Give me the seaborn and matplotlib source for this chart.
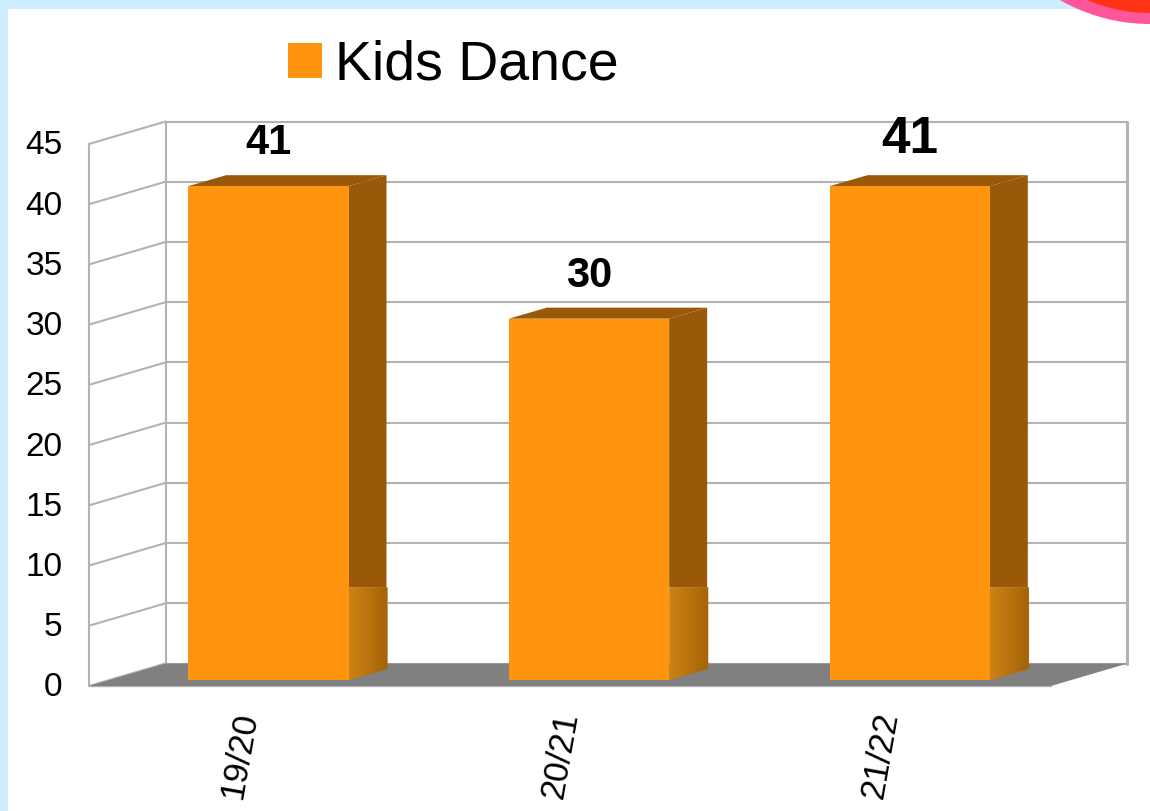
import numpy as np
import pandas as pd
import matplotlib
matplotlib.use("Agg")
import matplotlib.pyplot as plt
from matplotlib.patches import Polygon, Circle, Rectangle
from matplotlib.transforms import Affine2D, IdentityTransform
import seaborn as sns

seasons = ["19/20", "20/21", "21/22"]
dancers = [41, 30, 41]
series_name = "Kids Dance"
y_ticks = [0, 5, 10, 15, 20, 25, 30, 35, 40, 45]
label_sizes = [30, 30, 37]

ORANGE = "#FF950E"
DARK = "#995908"
GRID = "#b3b3b3"
FLOOR = "#808080"

W, H, DPI = 1150, 811, 100
sns.set_theme(style="white")
plt.rcParams["font.family"] = ["Liberation Sans", "DejaVu Sans"]

fig = plt.figure(figsize=(W / DPI, H / DPI), dpi=DPI, facecolor="#CCEEFF")

# page background
id_tr = IdentityTransform()
fig.add_artist(Rectangle((8, 0), W - 8, H - 9, transform=id_tr, fc="white", ec="none", zorder=-5))
fig.add_artist(Circle((1150, H + 157), 181, transform=id_tr, fc="#FF559B", ec="none", zorder=-4))
fig.add_artist(Circle((1150, H + 146), 159, transform=id_tr, fc="#FF3216", ec="none", zorder=-3))

# front plane of the 3D box: x 89..1051, y 144..686 (pixels from top)
ax = fig.add_axes([89 / W, (H - 686) / H, (1051 - 89) / W, (686 - 144) / H])
ax.patch.set_alpha(0)

df = pd.DataFrame({"season": seasons, "dancers": dancers})
sns.barplot(data=df, x="season", y="dancers", color=ORANGE, saturation=1,
            width=0.5, label=series_name, linewidth=0, edgecolor="none", ax=ax)
bars = list(ax.containers[0])
ax.set_xlim(-0.5, 2.5)
ax.set_ylim(0, 45)
ax.set_xlabel("")
ax.set_ylabel("")
ax.set_yticks(y_ticks)
for s in ax.spines.values():
    s.set_visible(False)

WALL_DX, WALL_DY = 76.5, 22.5     # depth of the box, pixels
BAR_DX, BAR_DY = 19, 6            # bar front relative to box front
SIDE_DX, SIDE_DY = 38, 11         # bar depth
GRAD_TOP = 7.7                    # value where the side face shading starts


def px(x, y, dx=0.0, dy=0.0):
    p = ax.transData.transform((x, y))
    return (p[0] + dx, p[1] + dy)


def poly(points, fc, z):
    ax.add_patch(Polygon(points, closed=True, fc=fc, ec="none",
                         transform=id_tr, zorder=z, clip_on=False))


def line(a, b, lw=1.5):
    ax.plot([a[0], b[0]], [a[1], b[1]], color=GRID, lw=lw, transform=id_tr,
            zorder=1.2, clip_on=False, solid_capstyle="round")


# walls and grid
x0, x1 = ax.get_xlim()
poly([px(x0, 0, WALL_DX, WALL_DY), px(x1, 0, WALL_DX, WALL_DY),
      px(x1, 45, WALL_DX, WALL_DY), px(x0, 45, WALL_DX, WALL_DY)], "white", 1)
for v in y_ticks:
    line(px(x0, v), px(x0, v, WALL_DX, WALL_DY))
    line(px(x0, v, WALL_DX, WALL_DY), px(x1, v, WALL_DX, WALL_DY))
line(px(x0, 0), px(x0, 45))
line(px(x0, 0, WALL_DX, WALL_DY), px(x0, 45, WALL_DX, WALL_DY))
line(px(x1, 0, WALL_DX, WALL_DY), px(x1, 45, WALL_DX, WALL_DY), lw=2.2)
poly([px(x0, 0), px(x1, 0), px(x1, 0, WALL_DX, WALL_DY), px(x0, 0, WALL_DX, WALL_DY)], FLOOR, 1.5)
line(px(x0, 0), px(x1, 0), lw=1.0)

# bars: front faces come from seaborn, the depth faces are derived from them
shift = ax.transData + Affine2D().translate(BAR_DX, BAR_DY)
c0 = np.array(matplotlib.colors.to_rgb("#CD8214"))
c1 = np.array(matplotlib.colors.to_rgb("#A56408"))
for i, bar in enumerate(bars):
    bar.set_transform(shift)
    bar.set_zorder(3)
    bar.set_clip_on(False)
    l, r = bar.get_x(), bar.get_x() + bar.get_width()
    v = bar.get_height()
    fl = (BAR_DX, BAR_DY)
    # top
    poly([px(l, v, *fl), px(r, v, *fl),
          px(r, v, BAR_DX + SIDE_DX, BAR_DY + SIDE_DY),
          px(l, v, BAR_DX + SIDE_DX, BAR_DY + SIDE_DY)], DARK, 2)
    # flat upper side
    cut = px(r, GRAD_TOP, *fl)[1]
    rx = px(r, 0, *fl)[0]
    poly([(rx, px(r, v, *fl)[1]), (rx + SIDE_DX, px(r, v, *fl)[1] + SIDE_DY),
          (rx + SIDE_DX, cut), (rx, cut)], DARK, 2)
    # shaded lower side
    base = px(r, 0, *fl)[1]
    n = 24
    for k in range(n):
        a, b = k / n, (k + 1) / n
        col = c0 + (c1 - c0) * (a + b) / 2
        poly([(rx + a * SIDE_DX, base + a * SIDE_DY),
              (rx + (b + 0.03) * SIDE_DX, base + b * SIDE_DY),
              (rx + (b + 0.03) * SIDE_DX, cut), (rx + a * SIDE_DX, cut)], col, 2)

# value labels
for i, (v, fs) in enumerate(zip(dancers, label_sizes)):
    ax.annotate(str(v), xy=(i, v), xytext=(BAR_DX, 49 if i < 2 else 53),
                textcoords="offset pixels", ha="center", va="center",
                fontsize=fs, fontweight="bold", color="black", zorder=5,
                annotation_clip=False)

# ticks
ax.tick_params(axis="y", length=0, pad=19, labelsize=24, colors="black")
ax.tick_params(axis="x", length=0, pad=17, labelsize=25, colors="black")
for t in ax.get_yticklabels():
    t.set_transform(t.get_transform() + Affine2D().translate(0, 1.5))
for t in ax.get_xticklabels():
    t.set_rotation(80)
    t.set_ha("center")
    t.set_va("top")
    t.set_transform(t.get_transform() + Affine2D().translate(-10, 0))

# legend
leg = ax.legend(loc="center left", bbox_to_anchor=(288 / W, 1 - 66 / H),
                bbox_transform=fig.transFigure, frameon=False, fontsize=40,
                handlelength=0.61, handleheight=0.6, handletextpad=0.24,
                borderpad=0, borderaxespad=0)
for t in leg.get_texts():
    t.set_color("black")

fig.savefig("out.png", dpi=DPI, facecolor=fig.get_facecolor())
